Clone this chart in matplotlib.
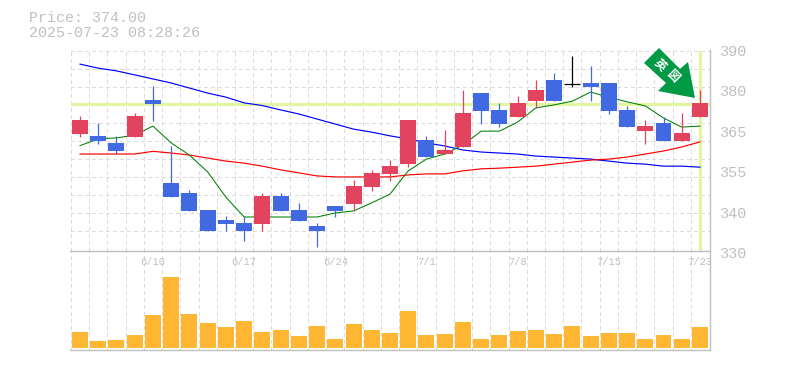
import numpy as np
import matplotlib
matplotlib.use('Agg')
import matplotlib.pyplot as plt
from matplotlib.patches import Polygon

# ---- data ----
opens = [365.0, 364.5, 362.4, 364.2, 375.1, 350.5, 347.5, 342.5, 339.5, 338.6, 338.3, 346.6,
         342.5, 337.7, 343.7, 344.3, 349.3, 353.2, 356.1, 363.3, 359.1, 361.2, 377.2, 372.2,
         370.1, 374.8, 381.1, 380.0, 380.2, 380.2, 372.2, 365.9, 368.3, 363.0, 370.1]
highs = [370.4, 368.3, 364.5, 371.3, 379.3, 361.5, 348.4, 342.5, 340.7, 340.7, 347.5, 347.5,
         344.6, 338.6, 343.7, 351.4, 354.4, 357.3, 369.2, 364.5, 366.2, 378.1, 377.2, 374.3,
         376.3, 381.1, 383.2, 388.2, 385.2, 380.2, 373.4, 369.2, 370.1, 371.3, 378.1]
lows = [364.2, 362.1, 359.1, 364.2, 368.9, 346.3, 342.2, 336.2, 336.2, 333.3, 336.2, 342.2,
        339.2, 331.5, 340.4, 342.2, 348.1, 351.1, 355.2, 358.2, 359.1, 361.2, 368.0, 367.1,
        370.1, 372.8, 374.8, 379.0, 374.8, 371.0, 367.1, 362.1, 363.0, 363.0, 370.1]
closes = [369.2, 363.0, 360.0, 370.4, 374.0, 346.3, 342.2, 336.2, 338.3, 336.2, 346.6, 342.2,
          339.2, 336.2, 342.2, 349.6, 353.5, 355.5, 369.2, 358.2, 360.3, 371.3, 371.9, 368.0,
          374.3, 378.1, 374.8, 380.0, 379.0, 371.9, 367.1, 367.4, 363.0, 365.3, 374.3]
ma_short = [361.6, 363.6, 363.9, 364.7, 367.4, 362.4, 358.8, 353.8, 346.3, 340.4, 340.4, 340.4,
            340.4, 340.4, 341.6, 342.2, 344.6, 347.2, 354.1, 357.6, 359.1, 361.8, 365.9, 365.9,
            368.6, 372.8, 373.7, 374.8, 377.5, 376.0, 374.6, 373.4, 369.8, 367.1, 367.4]
ma_mid = [359.1, 359.1, 359.1, 359.1, 359.9, 359.4, 358.8, 357.9, 357.0, 356.4, 355.5, 354.4,
          353.5, 352.6, 352.3, 352.3, 352.3, 352.3, 352.9, 353.2, 353.2, 354.1, 354.7, 354.9,
          355.2, 355.5, 356.1, 356.7, 357.3, 357.6, 358.2, 359.1, 360.0, 361.2, 362.7]
ma_long = [385.8, 384.6, 383.8, 382.6, 381.4, 380.2, 378.7, 377.2, 376.0, 374.3, 373.5, 372.2,
           371.0, 369.5, 368.0, 366.5, 365.6, 364.5, 363.6, 362.4, 361.5, 360.3, 359.7, 359.4,
           359.1, 358.5, 358.2, 357.9, 357.6, 357.0, 356.4, 356.1, 355.5, 355.5, 355.2]
volume = [16, 7, 8, 13, 33, 71, 34, 25, 21, 27, 16, 18, 12, 22, 9, 24, 18, 15,
          37, 13, 14, 26, 9, 13, 17, 18, 14, 22, 12, 15, 15, 9, 13, 9, 21]
date_pos = [4, 9, 14, 19, 24, 29, 34]
date_labels = ['6/10', '6/17', '6/24', '7/1', '7/8', '7/15', '7/23']
price_ticks = [390, 378, 366, 354, 342, 330]
price_labels = ['390', '380', '365', '355', '340', '330']
last_price = 374.0

W, H = 785, 370
GRAY = '#c0c0c0'
GRID = '#dcdcdc'
RED = '#e2435f'
BLUE = '#4169e1'
MONO = 'Liberation Mono'
PX = 0.72  # one pixel in points at dpi 100


def px_rect(x0, y0, x1, y1):
    # pixel box (top-left origin) -> figure fractions
    return [x0 / W, 1 - y1 / H, (x1 - x0) / W, (y1 - y0) / H]


def style_axes(ax):
    for s in ax.spines.values():
        s.set_visible(False)
    ax.tick_params(left=False, bottom=False, labelleft=False, labelbottom=False)
    ax.set_xlim(-0.5, 34.55)
    ax.set_xticks(np.arange(-0.5, 34.5))
    ax.set_axisbelow(True)
    ax.grid(True, axis='x', color=GRID, lw=PX, ls=(0, (3, 3)), antialiased=False)
    ax.patch.set_alpha(0)


fig = plt.figure(figsize=(W / 100, H / 100), dpi=100)
ax = fig.add_axes(px_rect(70.9, 50.5, 710, 250.5))
ax_vol = fig.add_axes(px_rect(70.9, 250.5, 710, 350.3))
style_axes(ax)
style_axes(ax_vol)

# ---- price panel ----
x = np.arange(len(opens))
ax.set_ylim(330.45, 389.85)
ax.set_yticks(np.arange(389.7, 331, -5.36))
ax.grid(True, axis='y', color=GRID, lw=PX, ls=(0, (3, 3)), antialiased=False)

ax.axhline(last_price, color='#e2f5a4', lw=2.3, zorder=1)
ax.axvline(x[-1], color='#e2f5a4', lw=2.3, zorder=1)

ax.plot(x, ma_long, color='#0000ff', lw=0.85, zorder=2)
ax.plot(x, ma_mid, color='#ff0000', lw=0.85, zorder=2)
ax.plot(x, ma_short, color='#008000', lw=0.75, zorder=2)

for i in x:
    o, h, l, c = opens[i], highs[i], lows[i], closes[i]
    col = RED if c > o else BLUE
    if c == o:
        col = 'black'
    ax.vlines(i, l, h, color=col, lw=0.9, zorder=3)
    if c == o:
        ax.hlines(c, i - 0.44, i + 0.44, color=col, lw=0.9, zorder=3)
    else:
        ax.bar(i, abs(c - o), bottom=min(o, c), width=0.877, color=col, zorder=4)

for p, lab in zip(price_ticks, price_labels):
    ax.annotate(lab, xy=(1, p), xycoords=('axes fraction', 'data'), xytext=(9, -2),
                textcoords='offset pixels', family=MONO, fontsize=11, color=GRAY,
                va='center', ha='left', annotation_clip=False)

# ---- volume panel ----
ax_vol.set_ylim(-2.3, 97.5)
ax_vol.bar(x, volume, width=0.877, color='#ffb733', zorder=3)
for i, lab in zip(date_pos, date_labels):
    ax_vol.text(i, 86, lab, family=MONO, fontsize=7.5, color=GRAY, ha='center', va='center', zorder=5)

# ---- frame ----
fig.add_artist(plt.Line2D([70 / W, 710 / W], [1 - 250.5 / H] * 2, color=GRAY, lw=1.0))
fig.add_artist(plt.Line2D([70 / W, 710 / W], [1 - 350.3 / H] * 2, color=GRAY, lw=1.0))
fig.add_artist(plt.Line2D([710 / W] * 2, [1 - 50 / H, 1 - 350.3 / H], color=GRAY, lw=1.0))

# ---- header ----
fig.text(29 / W, 1 - 18 / H, 'Price: 374.00', family=MONO, fontsize=10.8, color=GRAY, va='center')
fig.text(29 / W, 1 - 33 / H, '2025-07-23 08:28:26', family=MONO, fontsize=10.8, color=GRAY, va='center')

# ---- green badge arrow, drawn in figure pixels ----
arrow_px = [(659, 48), (644, 63), (666, 83), (658, 91), (695, 98), (688, 62), (680, 69)]
fig.add_artist(Polygon([(px / W, 1 - py / H) for px, py in arrow_px], closed=True,
                       transform=fig.transFigure, facecolor='#009944', edgecolor='none', zorder=10))
cjk = ['Noto Sans CJK JP', 'DejaVu Sans']
fig.text(660 / W, 1 - 65 / H, '英', family=cjk, fontsize=8.5, fontweight='bold', color='white',
         rotation=-45, ha='center', va='center', zorder=11)
fig.text(672 / W, 1 - 76 / H, '図', family=cjk, fontsize=8.5, fontweight='bold', color='white',
         rotation=-45, ha='center', va='center', zorder=11)

fig.savefig('out.png', dpi=100)
